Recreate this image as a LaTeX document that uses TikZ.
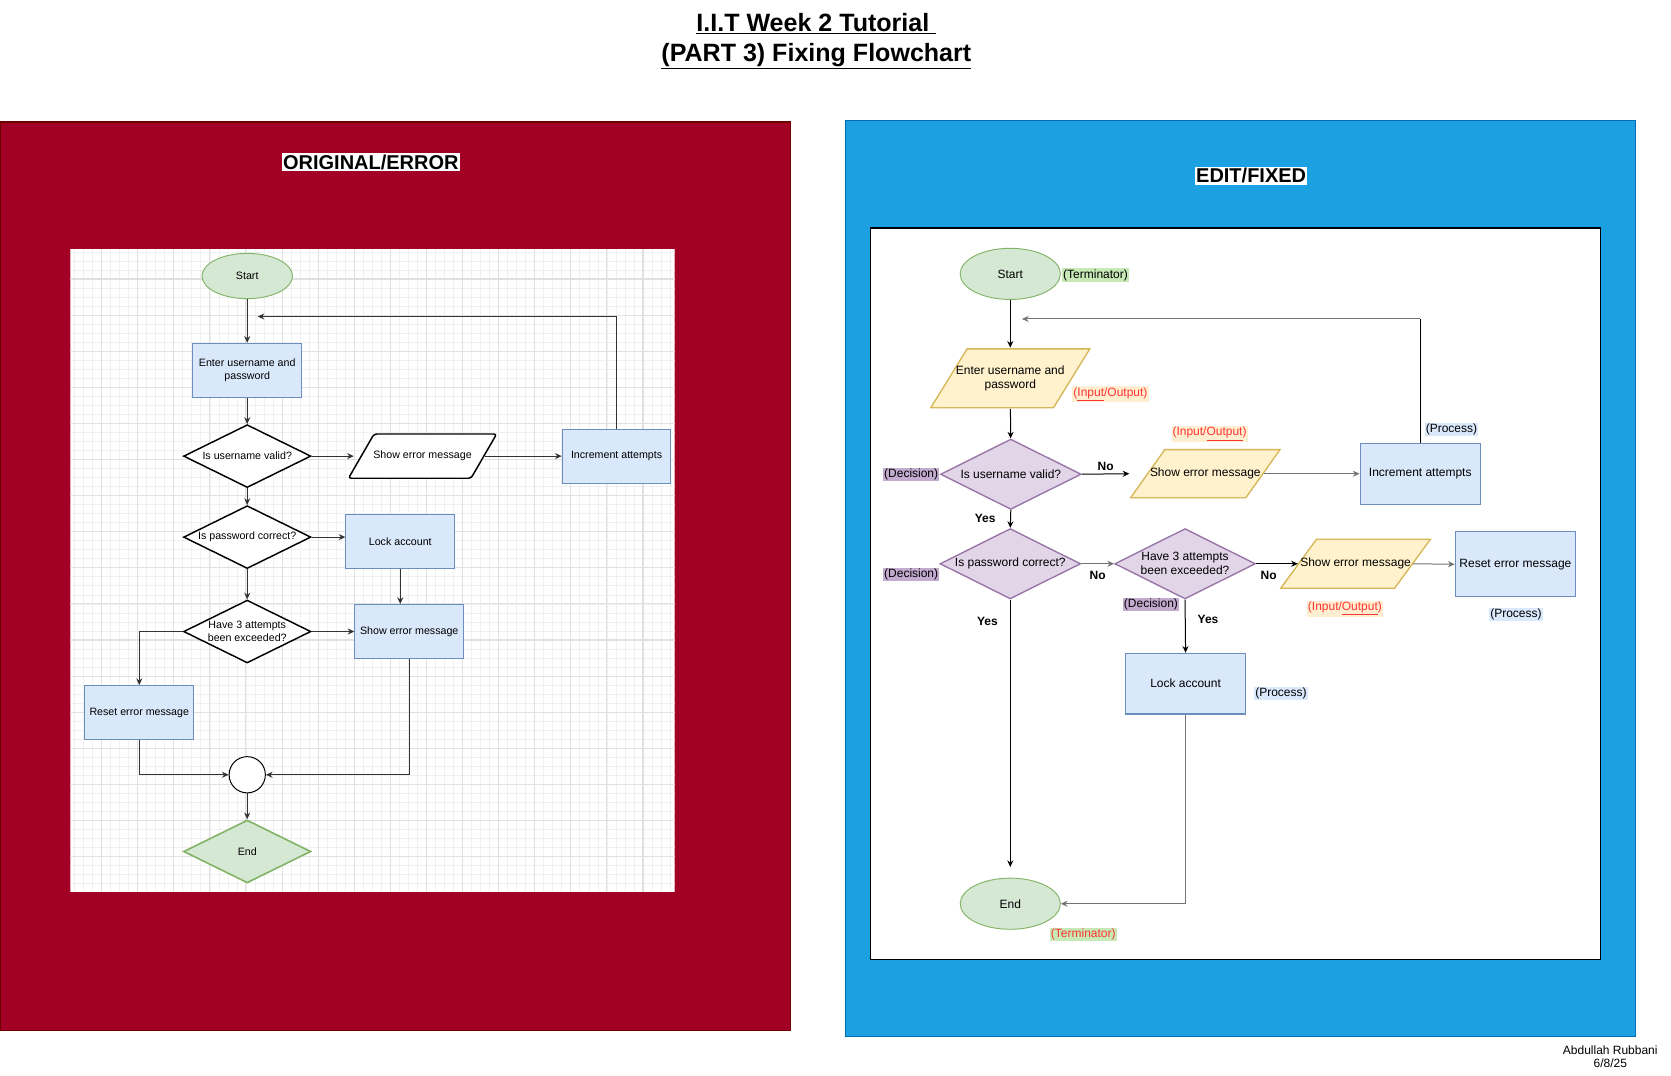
\documentclass[tikz,border=0pt]{standalone}
\usepackage{fontspec}
\setmainfont{Liberation Sans}
\usetikzlibrary{positioning, arrows.meta, calc, shapes.geometric}
\definecolor{crimsonbg}{HTML}{A20025}
\definecolor{crimsonline}{HTML}{6F0000}
\definecolor{bluebg}{HTML}{1BA1E2}
\definecolor{blueline}{HTML}{006EAF}
\definecolor{termfill}{HTML}{D5E8D4}
\definecolor{termline}{HTML}{82B366}
\definecolor{procfill}{HTML}{DAE8FC}
\definecolor{procline}{HTML}{6C8EBF}
\definecolor{iofill}{HTML}{FFF2CC}
\definecolor{ioline}{HTML}{D6B656}
\definecolor{decfill}{HTML}{E1D5E7}
\definecolor{decline}{HTML}{9673A6}
\definecolor{tagred}{HTML}{FF3333}
\definecolor{tagpurple}{HTML}{C3ABD0}
\definecolor{taggreen}{HTML}{C6E9B6}
\definecolor{tagpeach}{HTML}{FFEFD0}

\begin{document}
\begin{tikzpicture}[
  x=0.8pt, y=-0.8pt,
  every node/.style={font=\fontsize{9}{10.5}\selectfont, align=center},
  gridfine/.style={draw=black!6, line width=0.5pt},
  gridbold/.style={draw=black!12, line width=0.8pt},
  termbox/.style={ellipse, draw=termline, fill=termfill, line width=0.7pt,
    minimum width=75.2pt, minimum height=38.4pt, inner sep=0pt},
  procbox/.style={rectangle, draw=procline, fill=procfill, line width=0.8pt,
    minimum width=90.4pt, minimum height=45.6pt, inner sep=0pt},
  % parallelogram drawn inside a plain box, #1 = slant
  iobox/.style={rectangle, inner sep=0pt, minimum width=113.6pt, minimum height=37.6pt,
    path picture={
      \filldraw[draw=ioline, fill=iofill, line width=1pt]
        ([xshift=0.7pt,yshift=0.7pt]path picture bounding box.south west)
        -- ([xshift=#1,yshift=-0.7pt]path picture bounding box.north west)
        -- ([xshift=-0.7pt,yshift=-0.7pt]path picture bounding box.north east)
        -- ([xshift=-#1,yshift=0.7pt]path picture bounding box.south east) -- cycle;}},
  decbox/.style={diamond, aspect=2, draw=decline, fill=decfill, line width=1pt,
    minimum width=105.6pt, minimum height=52.8pt, inner sep=0pt},
  % left panel (original) shapes
  oldterm/.style={termbox, minimum width=68pt, minimum height=34pt,
    font=\fontsize{8}{9.5}\selectfont},
  oldproc/.style={procbox, minimum width=81.6pt, minimum height=40.6pt,
    font=\fontsize{8}{9.5}\selectfont},
  olddec/.style={diamond, aspect=2, draw=black, fill=white, line width=1.1pt,
    minimum width=95.6pt, minimum height=47.2pt, inner sep=0pt,
    font=\fontsize{8}{9.5}\selectfont},
  oldio/.style={rectangle, inner sep=0pt, minimum width=112.8pt, minimum height=34.8pt,
    font=\fontsize{8}{9.5}\selectfont,
    path picture={
      \filldraw[draw=black, fill=white, line width=1.1pt, rounded corners=2pt]
        ([xshift=0.8pt,yshift=0.8pt]path picture bounding box.south west)
        -- ([xshift=#1,yshift=-0.8pt]path picture bounding box.north west)
        -- ([xshift=-0.8pt,yshift=-0.8pt]path picture bounding box.north east)
        -- ([xshift=-#1,yshift=0.8pt]path picture bounding box.south east) -- cycle;}},
  tag/.style={inner sep=0.8pt, text=black},
  yesno/.style={font=\bfseries\fontsize{9}{10.5}\selectfont, inner sep=1pt},
  edge/.style={-{Stealth[length=5pt,width=4.5pt]}, line width=0.75pt, draw=black},
  edgegray/.style={edge, draw=black!55},
  oldedge/.style={-{Stealth[length=5pt,width=4.5pt]}, line width=0.75pt, draw=black!80},
]
\useasboundingbox (0,0) rectangle (1568,1009);

\node[font=\bfseries\fontsize{18.8}{22.4}\selectfont] (title) at (766,38.5)
  {\underline{I.I.T Week 2 Tutorial\ }\\\underline{(PART 3) Fixing Flowchart}};

% panels
\filldraw[fill=crimsonbg, draw=crimsonline, line width=0.8pt] (0,114.5) rectangle (742,967.4);
\filldraw[fill=bluebg, draw=blueline, line width=0.8pt] (793,113.5) rectangle (1535,973);
\filldraw[fill=white, draw=black, line width=0.9pt] (817,214) rectangle (1502,900);

\node[fill=white, inner sep=1pt, font=\bfseries\fontsize{15}{18}\selectfont] (oldtitle) at (348,152) {ORIGINAL/ERROR};
\node[fill=white, inner sep=1pt, font=\bfseries\fontsize{15}{18}\selectfont] (newtitle) at (1174,165) {EDIT/FIXED};

% grid paper behind the original chart
\begin{scope}
  \clip (66,234) rectangle (633,837);
  \fill[white] (66,234) rectangle (633,837);
  \foreach \i in {-3,...,63}
    \draw[gridfine] ({95.3+8.4675*\i},234) -- ({95.3+8.4675*\i},837);
  \foreach \i in {-31,...,39}
    \draw[gridfine] (66,{498.9+8.4675*\i}) -- (633,{498.9+8.4675*\i});
  \foreach \i in {-1,...,15}
    \draw[gridbold] ({95.3+33.87*\i},234) -- ({95.3+33.87*\i},837);
  \foreach \i in {-7,...,9}
    \draw[gridbold] (66,{498.9+33.87*\i}) -- (633,{498.9+33.87*\i});
\end{scope}

% original chart
\node[oldterm] (startL) at (232,259) {Start};
\node[oldproc] (enterL) at (232,347.5) {Enter username and\\password};
\node[olddec] (userL) at (232,428) {Is username valid?};
\node[oldio=20pt] (showL) at (396.5,428) {Show error message};
\node[oldproc] (incL) at (578.6,428) {Increment attempts};
\node[olddec] (passL) at (232,504) {Is password correct?};
\node[oldproc] (lockL) at (375.6,508) {Lock account};
\node[olddec] (attL) at (232,592.6) {Have 3 attempts\\been exceeded?};
\node[oldproc] (showLL) at (384,592.6) {Show error message};
\node[oldproc] (resetL) at (130.7,668.7) {Reset error message};
\node[circle, draw=black, fill=white, line width=0.75pt, minimum size=27.2pt, inner sep=0pt] (joinL) at (232,727) {};
\node[olddec, draw=termline, fill=termfill, line width=1.2pt] (endL) at (232,799) {End};
\coordinate (loopL) at (241.8,297);

\draw[oldedge] (startL) -- (enterL);
\draw[oldedge] (incL.north) |- (loopL);
\draw[oldedge] (enterL) -- (userL);
\draw[oldedge] (userL.east) -- ([xshift=5pt]showL.west);
\draw[oldedge] ([xshift=-10pt]showL.east) -- (incL.west);
\draw[oldedge] (userL) -- (passL);
\draw[oldedge] (passL.east) -- (passL.east -| lockL.west);
\draw[oldedge] (lockL.south) -- (lockL.south |- showLL.north);
\draw[oldedge] (passL) -- (attL);
\draw[oldedge] (attL.east) -- (showLL.west);
\draw[oldedge] (attL.west) -| (resetL.north);
\draw[oldedge] (resetL.south) |- (joinL.west);
\draw[oldedge] (showLL.south) |- (joinL.east);
\draw[oldedge] (joinL) -- (endL);

% fixed chart
\node[termbox] (startR) at (948,257) {Start};
\node[iobox=28pt, minimum width=120.8pt, minimum height=45.6pt] (enterR) at (948,355) {Enter username and\\password};
\node[decbox] (userR) at (948.5,445) {Is username valid?};
\node[iobox=26.4pt] (showR) at (1131,444.5) {Show error message};
\node[procbox] (incR) at (1332.7,444.5) {Increment attempts};
\node[decbox] (passR) at (948,529) {Is password correct?};
\node[decbox] (attR) at (1112,529) {Have 3 attempts\\been exceeded?};
\node[iobox=27.6pt, minimum width=113.8pt, minimum height=38.2pt] (showRR) at (1272,529) {Show error message};
\node[procbox, minimum height=48.8pt] (resetR) at (1422,529.5) {Reset error message};
\node[procbox] (lockR) at (1112.5,641.5) {Lock account};
\node[termbox] (endR) at (948,848) {End};
\coordinate (loopR) at (959,299.3);

\node[tag, fill=taggreen] (tagStart) at (1028,258) {(Terminator)};
\node[tag, fill=tagpeach, text=tagred] (tagEnter) at (1042,370) {(\underline{Input}/Output)};
\node[tag, fill=tagpurple] (tagUser) at (855,445) {(Decision)};
\node[tag, fill=tagpeach, text=tagred] (tagShow) at (1135,407) {(Input/\underline{Output})};
\node[tag, fill=procfill] (tagInc) at (1362,403) {(Process)};
\node[tag, fill=tagpurple] (tagPass) at (855,539) {(Decision)};
\node[tag, fill=tagpurple] (tagAtt) at (1080,567) {(Decision)};
\node[tag, fill=tagpeach, text=tagred] (tagShowRR) at (1262,571) {(Input/\underline{Output})};
\node[tag, fill=procfill] (tagReset) at (1422.5,576.7) {(Process)};
\node[tag, fill=procfill] (tagLock) at (1202,651) {(Process)};
\node[tag, fill=taggreen, text=tagred] (tagEnd) at (1016.5,877) {(Terminator)};

\draw[edge] (startR) -- (enterR);
\draw[line width=0.75pt] (incR.north) -- (incR.north |- loopR);
\draw[edgegray] (incR.north |- loopR) -- (loopR);
\draw[edge] (enterR) -- (userR);
\draw[edge] (userR.east) -- node[yesno, above=1pt] {No} (showR.west);
\draw[edgegray] ([xshift=-13.2pt]showR.east) -- (incR.west);
\draw[edge] (userR.south) -- node[yesno, left=10pt, pos=0.45] {Yes} (passR.north);
\draw[edgegray] (passR.east) -- node[yesno, below=4pt] {No} (attR.west);
\draw[edge] (attR.east) -- node[yesno, below=4pt, pos=0.3] {No} ([xshift=13.8pt]showRR.west);
\draw[edgegray] ([xshift=-13.8pt]showRR.east) -- (resetR.west);
\draw[edge] (attR.south) -- node[yesno, right=8pt, pos=0.37] {Yes} (lockR.north);
\draw[edge, shorten >=8pt] (passR.south) -- node[yesno, left=8pt, pos=0.08] {Yes} (endR.north);
\draw[edgegray] (lockR.south) |- (endR.east);

\node[font=\fontsize{9}{10.4}\selectfont] (author) at (1511,991.5) {Abdullah Rubbani\\6/8/25};
\end{tikzpicture}
\end{document}
